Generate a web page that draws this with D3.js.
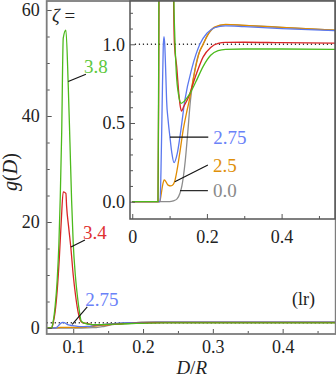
<!DOCTYPE html>
<html><head><meta charset="utf-8">
<script src="https://cdn.jsdelivr.net/npm/d3@7"></script>
<style>
html,body{margin:0;padding:0;background:#fff;}
svg text{font-family:"Liberation Serif","Times New Roman",Times,"DejaVu Serif",serif !important;}
</style></head>
<body><svg id="c" width="336" height="381"></svg>
<script>
// ---- data ----
const zetaLabels = ["0.0", "2.5", "2.75", "3.4", "3.8"];
const colors = ["#8c8c8c", "#e08c00", "#5b78ee", "#d82525", "#4cba1c"];
const labelColors = ["#8a8a8a", "#e0900a", "#6a82f8", "#e03030", "#5cc83c"];

const xGray = [0, 0.100, 0.110, 0.120, 0.128, 0.133, 0.137, 0.142, 0.148, 0.156, 0.165, 0.178, 0.190, 0.200, 0.220, 0.250, 0.300, 0.400, 0.543];
const gGray = [0, 0, 0.005, 0.018, 0.055, 0.10, 0.16, 0.26, 0.42, 0.646, 0.80, 0.94, 1.0, 1.05, 1.105, 1.125, 1.12, 1.108, 1.09];

const xOrange = [0, 0.0735, 0.077, 0.081, 0.0855, 0.090, 0.096, 0.1035, 0.110, 0.115, 0.120, 0.128, 0.136, 0.145, 0.153, 0.165, 0.180, 0.190, 0.200, 0.220, 0.250, 0.300, 0.400, 0.543];
const gOrange = [0, 0, 0.04, 0.10, 0.138, 0.128, 0.105, 0.10, 0.11, 0.14, 0.20, 0.32, 0.45, 0.56, 0.646, 0.80, 0.95, 1.0, 1.05, 1.11, 1.127, 1.12, 1.108, 1.09];

const xBlue = [0, 0.0745, 0.077, 0.080, 0.083, 0.085, 0.087, 0.090, 0.092, 0.096, 0.101, 0.106, 0.112, 0.120, 0.130, 0.141, 0.160, 0.181, 0.200, 0.220, 0.250, 0.300, 0.400, 0.543];
const gBlue = [0, 0, 0.2, 0.6, 0.98, 1.048, 1.0, 0.8, 0.646, 0.52, 0.41, 0.31, 0.248, 0.30, 0.45, 0.646, 0.85, 1.0, 1.07, 1.105, 1.117, 1.112, 1.10, 1.087];

const xRed = [0, 0.069, 0.071, 0.074, 0.077, 0.080, 0.0828, 0.0857, 0.0895, 0.0905, 0.0935, 0.0967, 0.100, 0.1035, 0.107, 0.110, 0.113, 0.119, 0.125, 0.129, 0.132, 0.137, 0.150, 0.170, 0.190, 0.210, 0.230, 0.250, 0.300, 0.400, 0.543];
const gRed = [0, 0, 0.8, 3, 7, 13, 20, 25.7, 25.4, 23, 19, 15, 10, 6, 3, 1.5, 1.0, 0.86, 0.68, 0.60, 0.575, 0.60, 0.66, 0.80, 0.92, 0.98, 1.005, 1.012, 1.013, 1.01, 1.007];

const xGreen = [0, 0.069, 0.071, 0.074, 0.077, 0.0795, 0.0815, 0.0835, 0.0857, 0.0895, 0.0928, 0.0953, 0.0977, 0.100, 0.103, 0.106, 0.109, 0.1115, 0.114, 0.118, 0.124, 0.131, 0.140, 0.150, 0.170, 0.190, 0.210, 0.230, 0.250, 0.300, 0.400, 0.543];
const gGreen = [0, 0, 1, 4, 9, 16, 25, 37, 54.7, 56.2, 46, 35, 24, 16, 10, 6, 3, 1.3, 1.05, 0.82, 0.68, 0.625, 0.64, 0.67, 0.76, 0.86, 0.93, 0.96, 0.968, 0.97, 0.97, 0.968];

const seriesX = [xGray, xOrange, xBlue, xRed, xGreen];
const seriesG = [gGray, gOrange, gBlue, gRed, gGreen];

const mainYMajor = [0, 20, 40, 60];
const mainYMinor = [5, 10, 15, 25, 30, 35, 45, 50, 55];
const mainXMajor = [0.1, 0.2, 0.3, 0.4];
const mainXMinor = [0.15, 0.25, 0.35, 0.45];
const insetYMajor = [0, 0.5, 1.0];
const insetYMinor = [0.1, 0.2, 0.3, 0.4, 0.6, 0.7, 0.8, 0.9, 1.1, 1.2];
const insetXMajor = [0, 0.2, 0.4];
const insetXMinor = [0.1, 0.3, 0.5];

// label annotations: [seriesIndex, curve point x, curve point g, label x, label g]
const mainNotes = [[4, 0.0928, 46.5, 0.1182, 47.9], [3, 0.0967, 15.3, 0.1168, 16.6], [2, 0.0986, 0.7, 0.1201, 4.0]];
const insetNotes = [[2, 0.101, 0.41, 0.217, 0.41], [1, 0.114, 0.127, 0.216, 0.233], [0, 0.128, 0.07, 0.216, 0.07]];

// ---- drawing ----
const FONT = "'Liberation Serif','Times New Roman',Times,'DejaVu Serif',serif";
const svg = d3.select("#c");
const fmt1 = d3.format(".1f");

// main plot
const mx = d3.scaleLinear().domain([0.062, 0.476]).range([46.7, 335.7]);
const my = d3.scaleLinear().domain([-1.13, 61.7]).range([334, 1]);
const defs = svg.append("defs");
defs.append("clipPath").attr("id", "mclip").append("rect")
  .attr("x", mx.range()[0]).attr("y", my.range()[1]).attr("width", mx.range()[1]-mx.range()[0]).attr("height", my.range()[0]-my.range()[1]);

const main = svg.append("g");
const mCurves = main.append("g").attr("clip-path", "url(#mclip)");
mCurves.append("line").attr("x1", mx.range()[0]).attr("x2", mx.range()[1]).attr("y1", my(1)).attr("y2", my(1))
  .attr("stroke", "#333").attr("stroke-width", 1.4).attr("stroke-dasharray", "1.2,2.8");
seriesX.forEach((xs, i) => {
  const pts = xs.map((x, j) => [x, seriesG[i][j]]);
  const line = d3.line().x(d => mx(d[0])).y(d => my(d[1])).curve(d3.curveMonotoneX);
  mCurves.append("path").attr("d", line(pts)).attr("fill", "none").attr("stroke", colors[i]).attr("stroke-width", 1.3);
});

function styleAxis(g) {
  g.attr("font-family", FONT);
  g.select(".domain").remove();
  g.selectAll("line").attr("stroke", "#555").attr("stroke-width", 1);
  g.selectAll("text").attr("fill", "#222").attr("font-family", FONT);
}

main.append("g").attr("transform", `translate(0,${my.range()[0]})`)
  .call(d3.axisBottom(mx).tickValues(mainXMajor).tickSize(-5).tickPadding(6).tickFormat(fmt1))
  .call(styleAxis).call(g => g.selectAll("text").attr("font-size", 18));
main.append("g").attr("transform", `translate(0,${my.range()[0]})`)
  .call(d3.axisBottom(mx).tickValues(mainXMinor).tickSize(-3).tickFormat(""))
  .call(styleAxis);
main.append("g").attr("transform", `translate(${mx.range()[0]},0)`)
  .call(d3.axisLeft(my).tickValues(mainYMajor).tickSize(-5).tickPadding(7).tickFormat(d3.format("d")))
  .call(styleAxis).call(g => g.selectAll("text").attr("font-size", 18));
main.append("g").attr("transform", `translate(${mx.range()[0]},0)`)
  .call(d3.axisLeft(my).tickValues(mainYMinor).tickSize(-3).tickFormat(""))
  .call(styleAxis);

main.append("rect").attr("x", mx.range()[0]).attr("y", my.range()[1])
  .attr("width", mx.range()[1]-mx.range()[0]).attr("height", my.range()[0]-my.range()[1])
  .attr("fill", "none").attr("stroke", "#7d7d7d").attr("stroke-width", 1.8);

// main annotations
main.append("text").attr("x", 52).attr("y", 22).attr("font-size", 19).attr("fill", "#222").attr("font-family", FONT)
  .html('<tspan font-style="italic">ζ</tspan> =');
mainNotes.forEach(n => {
  const [i, px, pg, lx, lg] = n;
  main.append("line").attr("x1", mx(px)).attr("y1", my(pg)).attr("x2", mx(lx)).attr("y2", my(lg))
    .attr("stroke", "#111").attr("stroke-width", 1.1);
  main.append("text").attr("x", mx(lx) - 2).attr("y", my(lg) - 1).attr("font-size", 19).attr("font-family", FONT)
    .attr("fill", labelColors[i]).text(zetaLabels[i]);
});
main.append("text").attr("x", 292).attr("y", 305).attr("font-size", 18).attr("fill", "#222").attr("font-family", FONT).text("(lr)");
main.append("text").attr("x", 191.7).attr("y", 374).attr("text-anchor", "middle").attr("font-size", 19).attr("fill", "#222").attr("font-family", FONT)
  .html('<tspan font-style="italic">D</tspan>/<tspan font-style="italic">R</tspan>');
main.append("text").attr("transform", "translate(17,172) rotate(-90)").attr("text-anchor", "middle").attr("font-size", 20).attr("fill", "#222").attr("font-family", FONT)
  .html('<tspan font-style="italic">g</tspan>(<tspan font-style="italic">D</tspan>)');

// inset
const ix = d3.scaleLinear().domain([-0.006, 0.543]).range([130, 335]);
const iy = d3.scaleLinear().domain([-0.11, 1.275]).range([219, 1]);
defs.append("clipPath").attr("id", "iclip").append("rect")
  .attr("x", ix.range()[0]).attr("y", iy.range()[1]).attr("width", ix.range()[1]-ix.range()[0]).attr("height", iy.range()[0]-iy.range()[1]);
const inset = svg.append("g");
inset.append("rect").attr("x", ix.range()[0]).attr("y", iy.range()[1])
  .attr("width", ix.range()[1]-ix.range()[0]).attr("height", iy.range()[0]-iy.range()[1]).attr("fill", "#fff");
const iCurves = inset.append("g").attr("clip-path", "url(#iclip)");
iCurves.append("line").attr("x1", ix(0.007)).attr("x2", ix.range()[1]).attr("y1", iy(1)).attr("y2", iy(1))
  .attr("stroke", "#333").attr("stroke-width", 1.4).attr("stroke-dasharray", "1.2,2.8");
seriesX.forEach((xs, i) => {
  const pts = xs.map((x, j) => [x, seriesG[i][j]]);
  const line = d3.line().x(d => ix(d[0])).y(d => iy(d[1])).curve(d3.curveMonotoneX);
  iCurves.append("path").attr("d", line(pts)).attr("fill", "none").attr("stroke", colors[i]).attr("stroke-width", 1.3);
});
inset.append("g").attr("transform", `translate(0,${iy.range()[0]})`)
  .call(d3.axisBottom(ix).tickValues(insetXMajor).tickSize(-5).tickPadding(11).tickFormat(d => d === 0 ? "0" : fmt1(d)))
  .call(styleAxis).call(g => g.selectAll("text").attr("font-size", 18));
inset.append("g").attr("transform", `translate(0,${iy.range()[0]})`)
  .call(d3.axisBottom(ix).tickValues(insetXMinor).tickSize(-3).tickFormat(""))
  .call(styleAxis);
inset.append("g").attr("transform", `translate(${ix.range()[0]},0)`)
  .call(d3.axisLeft(iy).tickValues(insetYMajor).tickSize(-5).tickPadding(5).tickFormat(fmt1))
  .call(styleAxis).call(g => g.selectAll("text").attr("font-size", 18));
inset.append("g").attr("transform", `translate(${ix.range()[0]},0)`)
  .call(d3.axisLeft(iy).tickValues(insetYMinor).tickSize(-3).tickFormat(""))
  .call(styleAxis);
inset.append("rect").attr("x", ix.range()[0]).attr("y", iy.range()[1])
  .attr("width", ix.range()[1]-ix.range()[0]).attr("height", iy.range()[0]-iy.range()[1])
  .attr("fill", "none").attr("stroke", "#555").attr("stroke-width", 1.5);
insetNotes.forEach(n => {
  const [i, px, pg, lx, lg] = n;
  inset.append("line").attr("x1", ix(px)).attr("y1", iy(pg)).attr("x2", ix(lx) - 5).attr("y2", iy(lg))
    .attr("stroke", "#111").attr("stroke-width", 1.1);
  inset.append("text").attr("x", ix(lx)).attr("y", iy(lg) + 6.5).attr("font-size", 19).attr("font-family", FONT)
    .attr("fill", labelColors[i]).text(zetaLabels[i]);
});
</script></body></html>
